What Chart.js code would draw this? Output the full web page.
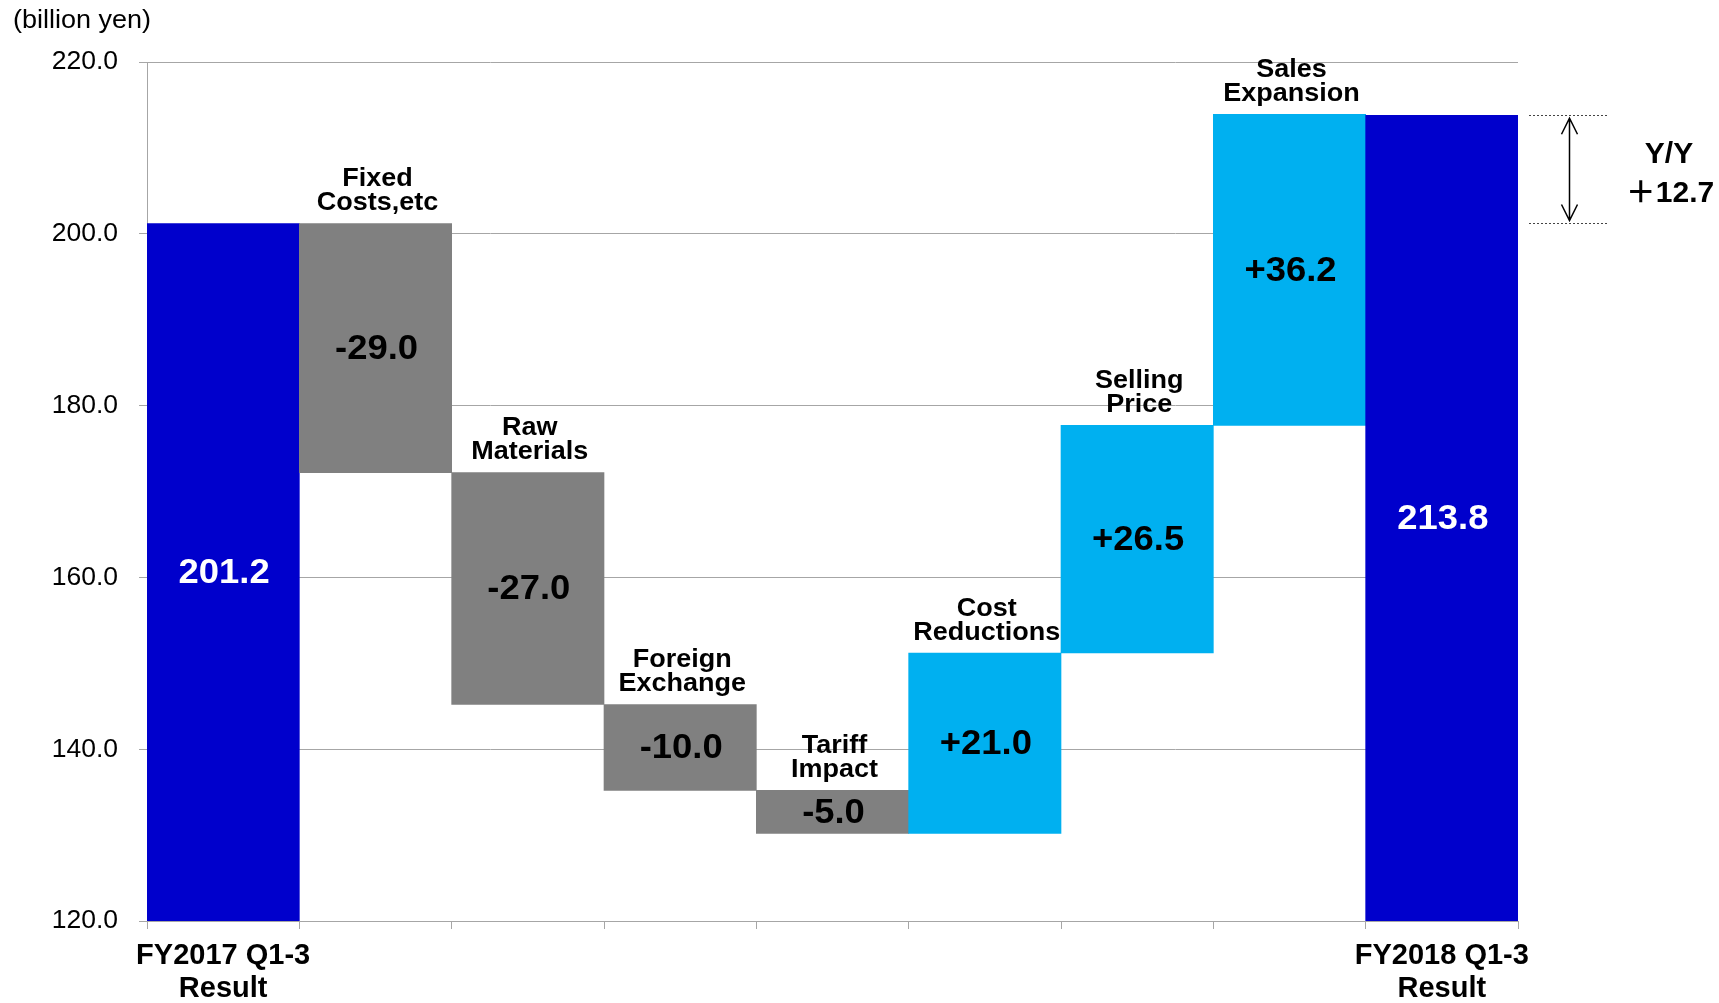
<!DOCTYPE html>
<html>
<head>
<meta charset="utf-8">
<title>Operating income bridge</title>
<script src="https://cdn.jsdelivr.net/npm/chart.js@4.4.1/dist/chart.umd.min.js"></script>
<style>
  html, body { margin: 0; padding: 0; background: #fff; }
  #wrap { width: 1719px; height: 1003px; }
</style>
</head>
<body>
<div id="wrap"><canvas id="bridge" width="1719" height="1003"></canvas></div>
<script>
// values in billion yen
const startLabel = ["FY2017 Q1-3", "Result"];
const endLabel = ["FY2018 Q1-3", "Result"];
const startValue = 201.2;
const endValue = 213.8;
const stepNames = [
  ["Fixed", "Costs,etc"],
  ["Raw", "Materials"],
  ["Foreign", "Exchange"],
  ["Tariff", "Impact"],
  ["Cost", "Reductions"],
  ["Selling", "Price"],
  ["Sales", "Expansion"]
];
const stepValues = [-29.0, -27.0, -10.0, -5.0, 21.0, 26.5, 36.2];
const yMin = 120, yMax = 220, yStep = 20;
const unitLabel = "(billion yen)";
const yoyLabel = "Y/Y";
const yoyValue = 12.7;

const colTotal = "#0000CC";
const colDown = "#808080";
const colUp = "#00B0F0";
const gridCol = "#A6A6A6";
const fontFam = "'Liberation Sans', Arial, sans-serif";

// build the floating bars from the step values
let running = startValue;
const bars = [[yMin, startValue]];
const colors = [colTotal];
stepValues.forEach(v => {
  const next = running + v;
  bars.push([Math.min(running, next), Math.max(running, next)]);
  colors.push(v < 0 ? colDown : colUp);
  running = next;
});
bars.push([yMin, endValue]);
colors.push(colTotal);

const tickLabels = [startLabel, ...stepNames.map(() => ""), endLabel];

// the original text is a bit wider than Arial, so stretch it a little
function wideText(ctx, txt, x, y, sx) {
  ctx.save();
  ctx.translate(x, y);
  ctx.scale(sx, 1);
  ctx.fillText(txt, 0, 0);
  ctx.restore();
}

// labels, value texts and the Y/Y marker
const annotate = {
  id: "annotate",
  afterDatasetsDraw(chart) {
    const { ctx, scales: { y } } = chart;
    const els = chart.getDatasetMeta(0).data;
    ctx.save();

    ctx.fillStyle = "#000";
    ctx.font = "25px " + fontFam;
    ctx.textAlign = "left";
    ctx.textBaseline = "middle";
    wideText(ctx, unitLabel, 13, 21, 1.08);

    els.forEach((el, i) => {
      const top = Math.min(el.y, el.base);
      const bot = Math.max(el.y, el.base);
      const mid = (top + bot) / 2;
      ctx.textAlign = "center";
      ctx.textBaseline = "middle";
      let txt;
      if (i === 0 || i === els.length - 1) {
        txt = (i === 0 ? startValue : endValue).toFixed(1);
        ctx.fillStyle = "#fff";
      } else {
        const v = stepValues[i - 1];
        txt = (v > 0 ? "+" : "") + v.toFixed(1);
        ctx.fillStyle = "#000";
        // category name above the bar
        const lines = stepNames[i - 1];
        ctx.font = "bold 25px " + fontFam;
        wideText(ctx, lines[1], el.x + 2, top - 20, 1.08);
        wideText(ctx, lines[0], el.x + 2, top - 20 - 24, 1.08);
      }
      ctx.font = "bold 35px " + fontFam;
      wideText(ctx, txt, el.x + 1, mid + 1, 1.04);
    });

    // Y/Y bracket on the right
    const yA = y.getPixelForValue(startValue);
    const yB = y.getPixelForValue(endValue);
    ctx.strokeStyle = "#444";
    ctx.lineWidth = 1;
    ctx.setLineDash([2, 2]);
    [yA, yB].forEach(py => {
      ctx.beginPath();
      ctx.moveTo(1529, Math.round(py) + 0.5);
      ctx.lineTo(1607, Math.round(py) + 0.5);
      ctx.stroke();
    });
    ctx.setLineDash([]);
    const ax = 1569.5;
    ctx.strokeStyle = "#000";
    ctx.lineWidth = 1.5;
    ctx.beginPath();
    ctx.moveTo(ax, yB + 3);
    ctx.lineTo(ax, yA - 3);
    ctx.moveTo(ax - 8, yB + 19);
    ctx.lineTo(ax, yB + 3);
    ctx.lineTo(ax + 8, yB + 19);
    ctx.moveTo(ax - 8, yA - 19);
    ctx.lineTo(ax, yA - 3);
    ctx.lineTo(ax + 8, yA - 19);
    ctx.stroke();

    ctx.fillStyle = "#000";
    ctx.textAlign = "center";
    ctx.font = "bold 30px " + fontFam + ", 'Noto Sans CJK JP'";
    ctx.fillText(yoyLabel, 1669, 155);
    ctx.fillText("\uFF0B" + yoyValue.toFixed(1), 1670, 194);

    ctx.restore();
  }
};

new Chart(document.getElementById("bridge"), {
  type: "bar",
  data: {
    labels: tickLabels,
    datasets: [{
      data: bars,
      backgroundColor: colors,
      borderWidth: 0,
      barPercentage: 1,
      categoryPercentage: 1
    }]
  },
  options: {
    responsive: false,
    animation: false,
    layout: { padding: { top: 62, right: 201, left: 0, bottom: 0 } },
    plugins: { legend: { display: false }, tooltip: { enabled: false } },
    scales: {
      x: {
        afterFit: s => { s.height = 82; },
        grid: { offset: true, drawOnChartArea: false, color: gridCol, tickLength: 8 },
        border: { color: gridCol },
        ticks: {
          color: "#000",
          maxRotation: 0,
          autoSkip: false,
          padding: 10,
          font: { family: fontFam, size: 29, weight: "bold", lineHeight: 1.15 }
        }
      },
      y: {
        min: yMin,
        max: yMax,
        afterFit: s => { s.width = 147; },
        grid: { color: gridCol, tickLength: 8 },
        border: { color: gridCol },
        ticks: {
          stepSize: yStep,
          color: "#000",
          padding: 21,
          font: { family: fontFam, size: 26.5 },
          callback: v => v.toFixed(1)
        }
      }
    }
  },
  plugins: [annotate]
});
</script>
</body>
</html>
